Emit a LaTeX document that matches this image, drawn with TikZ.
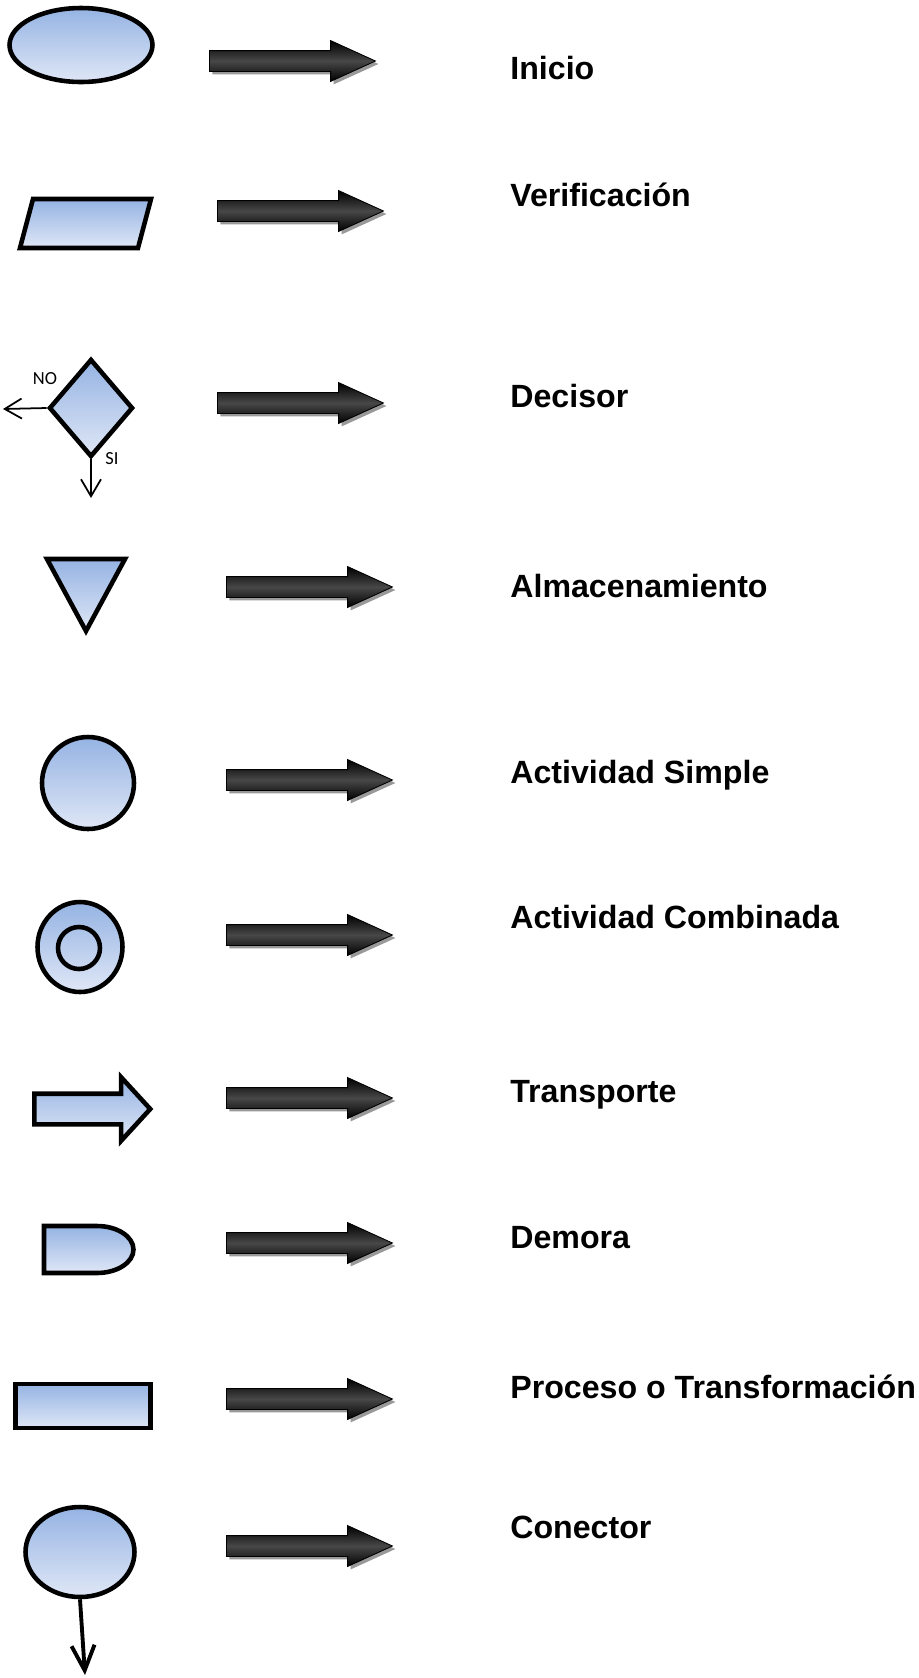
\documentclass[tikz,border=0pt]{standalone}
\usepackage{fontspec}
\setmainfont{Liberation Sans}
\newfontfamily\carlito{Carlito}
\usetikzlibrary{shapes.geometric,shapes.arrows,shadows,arrows.meta}
\definecolor{azulsup}{RGB}{149,179,227}
\definecolor{azulinf}{RGB}{223,231,246}
\begin{document}
\begin{tikzpicture}[x=0.02cm, y=-0.02cm,
		forma/.style={draw=black, line width=2.6pt, top color=azulsup, bottom color=azulinf, inner sep=0pt},
		flecha/.style={single arrow, draw=black, line width=0.5pt, top color=black, bottom color=black, middle color=black!72, inner xsep=0pt, inner ysep=0.2cm, single arrow head extend=0.2cm, single arrow tip angle=49, minimum height=3.32cm, anchor=tail, drop shadow={shadow xshift=0.06cm, shadow yshift=-0.06cm, fill=gray, opacity=0.8}},
		etiqueta/.style={anchor=base west, inner sep=0pt, font=\fontsize{18.3}{22}\selectfont\bfseries},
		rotulo/.style={inner sep=0pt, font=\carlito\fontsize{10.5}{12}\selectfont},
		ramal/.style={-{Straight Barb[length=0.34cm, width=0.4cm]}, line width=1pt}
	]
		\useasboundingbox (0,0) rectangle (919,1678);

		\node[forma, ellipse, minimum width=2.86cm, minimum height=1.48cm] (inicio) at (81,45) {};
		\node[flecha] (f1) at (209,61) {};
		\node[etiqueta] (t1) at (510,79) {Inicio};

		\draw[forma] (33,199) -- (151,199) -- (138,248) -- (20,248) -- cycle;
		\node[flecha] (f2) at (217,211) {};
		\node[etiqueta] (t2) at (510,206) {Verificación};

		\node[forma, diamond, minimum width=1.68cm, minimum height=1.96cm] (decisor) at (91,408) {};
		\node[rotulo] (no) at (45,379) {NO};
		\node[rotulo] (si) at (112,459) {SI};
		\coordinate (salno) at (3,409);
		\coordinate (salsi) at (91,498);
		\draw[ramal] (decisor.west) -- (salno);
		\draw[ramal] (decisor.south) -- (salsi);
		\node[flecha] (f3) at (217,403) {};
		\node[etiqueta] (t3) at (510,407) {Decisor};

		\draw[forma] (47,559) -- (125,559) -- (86,631) -- cycle;
		\node[flecha] (f4) at (226,587) {};
		\node[etiqueta] (t4) at (510,597) {Almacenamiento};

		\node[forma, circle, minimum size=1.84cm] (simple) at (88,783) {};
		\node[flecha] (f5) at (226,780) {};
		\node[etiqueta] (t5) at (510,783) {Actividad Simple};

		\node[forma, ellipse, minimum width=1.7cm, minimum height=1.8cm] (combinada) at (80,947) {};
		\node[circle, draw=black, line width=2.6pt, minimum size=0.84cm, inner sep=0pt] (interior) at (79,948) {};
		\node[flecha] (f6) at (226,935) {};
		\node[etiqueta] (t6) at (510,928) {Actividad Combinada};

		\node[forma, single arrow, anchor=tail, inner xsep=0pt, inner ysep=0.26cm, single arrow head extend=0.33cm, single arrow tip angle=95, minimum height=2.32cm] (transporte) at (32,1109) {};
		\node[flecha] (f7) at (226,1098) {};
		\node[etiqueta] (t7) at (510,1102) {Transporte};

		\draw[forma] (44,1226) -- (97,1226) arc[start angle=90, end angle=-90, x radius=0.73cm, y radius=0.47cm] -- (44,1273) -- cycle;
		\node[flecha] (f8) at (226,1243) {};
		\node[etiqueta] (t8) at (510,1248) {Demora};

		\node[forma, rectangle, minimum width=2.7cm, minimum height=0.88cm] (proceso) at (83,1406) {};
		\node[flecha] (f9) at (226,1399) {};
		\node[etiqueta] (t9) at (510,1398) {Proceso o Transformación};

		\node[forma, ellipse, minimum width=2.18cm, minimum height=1.8cm] (conector) at (80,1552) {};
		\coordinate (salida) at (85,1675);
		\draw[-{Straight Barb[length=0.5cm, width=0.46cm]}, line width=2.2pt] (conector.south) -- (salida);
		\node[flecha] (f10) at (226,1546) {};
		\node[etiqueta] (t10) at (510,1538) {Conector};
	\end{tikzpicture}
\end{document}
